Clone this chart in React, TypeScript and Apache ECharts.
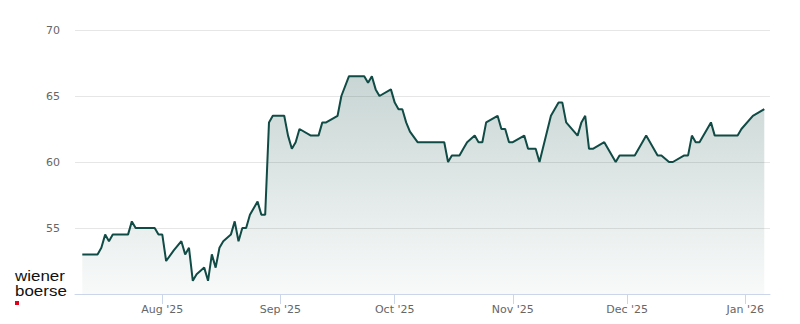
import React, { useEffect, useRef } from "react";
import * as echarts from "echarts";

const dates: string[] = [
  "2025-07-11", "2025-07-15", "2025-07-16", "2025-07-17", "2025-07-18", "2025-07-19",
  "2025-07-23", "2025-07-24", "2025-07-25", "2025-07-30", "2025-07-31", "2025-08-01",
  "2025-08-02", "2025-08-04", "2025-08-06", "2025-08-07", "2025-08-08", "2025-08-09",
  "2025-08-10", "2025-08-12", "2025-08-13", "2025-08-14", "2025-08-15", "2025-08-16",
  "2025-08-17", "2025-08-19", "2025-08-20", "2025-08-21", "2025-08-22", "2025-08-23",
  "2025-08-24", "2025-08-26", "2025-08-27", "2025-08-28", "2025-08-29", "2025-08-30",
  "2025-09-02", "2025-09-03", "2025-09-04", "2025-09-05", "2025-09-06", "2025-09-09",
  "2025-09-11", "2025-09-12", "2025-09-13", "2025-09-16", "2025-09-17", "2025-09-19",
  "2025-09-23", "2025-09-24", "2025-09-25", "2025-09-26", "2025-09-27", "2025-09-30",
  "2025-10-01", "2025-10-02", "2025-10-03", "2025-10-04", "2025-10-05", "2025-10-07",
  "2025-10-14", "2025-10-15", "2025-10-16", "2025-10-18", "2025-10-19", "2025-10-20",
  "2025-10-22", "2025-10-23", "2025-10-24", "2025-10-25", "2025-10-28", "2025-10-29",
  "2025-10-30", "2025-10-31", "2025-11-01", "2025-11-04", "2025-11-05", "2025-11-07",
  "2025-11-08", "2025-11-11", "2025-11-13", "2025-11-14", "2025-11-15", "2025-11-18",
  "2025-11-19", "2025-11-20", "2025-11-21", "2025-11-22", "2025-11-25", "2025-11-28",
  "2025-11-29", "2025-12-03", "2025-12-05", "2025-12-06", "2025-12-09", "2025-12-10",
  "2025-12-12", "2025-12-13", "2025-12-16", "2025-12-17", "2025-12-18", "2025-12-19",
  "2025-12-20", "2025-12-23", "2025-12-24", "2025-12-30", "2025-12-31", "2026-01-03",
  "2026-01-06",
];

const prices: number[] = [
  53.0, 53.0, 53.5, 54.5, 54.0, 54.5,
  54.5, 55.5, 55.0, 55.0, 54.5, 54.5,
  52.5, 53.3, 54.0, 53.0, 53.5, 51.0,
  51.5, 52.0, 51.0, 53.0, 52.0, 53.5,
  54.0, 54.5, 55.5, 54.0, 55.0, 55.0,
  56.0, 57.0, 56.0, 56.0, 63.0, 63.5,
  63.5, 62.0, 61.0, 61.5, 62.5, 62.0,
  62.0, 63.0, 63.0, 63.5, 65.0, 66.5,
  66.5, 66.0, 66.5, 65.5, 65.0, 65.5,
  64.5, 64.0, 64.0, 63.0, 62.3, 61.5,
  61.5, 60.0, 60.5, 60.5, 61.0, 61.5,
  62.0, 61.5, 61.5, 63.0, 63.5, 62.5,
  62.5, 61.5, 61.5, 62.0, 61.0, 61.0,
  60.0, 63.5, 64.5, 64.5, 63.0, 62.0,
  63.0, 63.5, 61.0, 61.0, 61.5, 60.0,
  60.5, 60.5, 61.5, 62.0, 60.5, 60.5,
  60.0, 60.0, 60.5, 60.5, 62.0, 61.5,
  61.5, 63.0, 62.0, 62.0, 62.5, 63.5,
  64.0,
];

const axisStart = "2025-07-09T02:00:00Z";
const axisEnd = "2026-01-07T12:00:00Z";
const monthNames: string[] = ["Jan", "Feb", "Mar", "Apr", "May", "Jun", "Jul", "Aug", "Sep", "Oct", "Nov", "Dec"];

const yMin = 50;
const yMax = 70;
const yStep = 5;

export default function App() {
  const ref = useRef<HTMLDivElement>(null);
  useEffect(() => {
    document.body.style.margin = "0";
    if (!ref.current) return;
    const chart = echarts.init(ref.current, null, { renderer: "svg" });
    const seriesData = dates.map((d, i) => [Date.parse(d + "T00:00:00Z"), prices[i]]);
    chart.setOption({
      animation: false,
      useUTC: true,
      grid: { left: 75, right: 30, top: 30, bottom: 30, containLabel: false },
      xAxis: {
        type: "time",
        min: Date.parse(axisStart),
        max: Date.parse(axisEnd),
        minInterval: 28 * 86400000,
        maxInterval: 31 * 86400000,
        axisLine: { show: true, lineStyle: { color: "#ccd6eb", width: 1 } },
        axisTick: { show: true, length: 10, lineStyle: { color: "#ccd6eb" } },
        splitLine: { show: false },
        axisLabel: {
          color: "#666666",
          fontSize: 11,
          fontFamily: "DejaVu Sans",
          margin: 10,
          showMinLabel: false,
          showMaxLabel: false,
          formatter: (v: number) => {
            const d = new Date(v);
            if (d.getUTCDate() !== 1) return "";
            return monthNames[d.getUTCMonth()] + " '" + String(d.getUTCFullYear()).slice(2);
          },
        },
      },
      yAxis: {
        type: "value",
        min: yMin,
        max: yMax,
        interval: yStep,
        axisLine: { show: false },
        axisTick: { show: false },
        splitLine: { show: true, lineStyle: { color: "#e6e6e6", width: 1 } },
        axisLabel: {
          color: "#666666",
          fontSize: 11,
          fontFamily: "DejaVu Sans",
          margin: 15,
          showMinLabel: false,
          formatter: (v: number) => (v === yMin ? "" : String(v)),
        },
      },
      series: [
        {
          type: "line",
          data: seriesData,
          symbol: "none",
          lineStyle: { color: "#104b45", width: 2 },
          itemStyle: { color: "#104b45" },
          areaStyle: {
            color: new echarts.graphic.LinearGradient(0, 0, 0, 1, [
              { offset: 0, color: "rgba(16,75,69,0.33)" },
              { offset: 1, color: "rgba(16,75,69,0.04)" },
            ]),
          },
        },
      ],
      graphic: [
        {
          type: "text",
          x: 15,
          y: 268,
          scaleX: 1.13,
          style: {
            text: "wiener\nboerse",
            font: "15px 'Liberation Sans', Arial, sans-serif",
            lineHeight: 15,
            verticalAlign: "top",
            fill: "#111111",
          },
        },
        {
          type: "rect",
          shape: { x: 15, y: 301, width: 4, height: 4 },
          style: { fill: "#e2001a" },
        },
      ],
    });
    return () => chart.dispose();
  }, []);
  return <div ref={ref} style={{ width: 800, height: 324 }} />;
}
